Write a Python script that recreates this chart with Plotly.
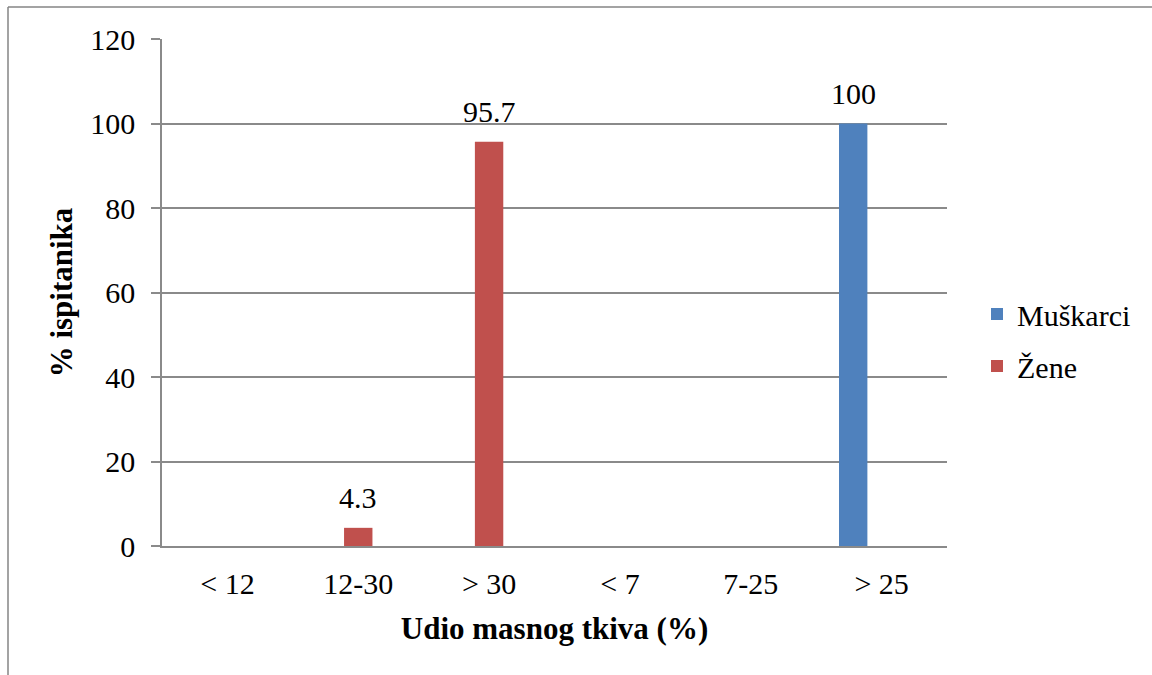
import plotly.graph_objects as go

categories = ["< 12", "12-30", "> 30", "< 7", "7-25", "> 25"]
muskarci = [None, None, None, None, None, 100]
zene = [None, 4.3, 95.7, None, None, None]
series_names = ["Muškarci", "Žene"]
y_ticks = [0, 20, 40, 60, 80, 100, 120]

BLUE = "#4F81BD"
RED = "#C0504D"
GRID = "#8A8A8A"
FONT = "Liberation Serif"

W, H = 1152, 675
L, R, T, B = 162, 205, 39, 129
BW = 0.217
offsets = [-1.5 * BW, -0.5 * BW]

fig = go.Figure()
for name, vals, col, off in zip(series_names, [muskarci, zene], [BLUE, RED], offsets):
    fig.add_trace(go.Bar(
        name=name, x=categories, y=vals, marker=dict(color=col, line=dict(width=0)),
        width=BW, offset=off, legendgroup=name,
    ))

annotations = []
for vals, off in zip([muskarci, zene], offsets):
    for i, v in enumerate(vals):
        if v is None:
            continue
        annotations.append(dict(
            x=i + off + BW / 2, y=v, xref="x", yref="y", text=f"{v:g}",
            showarrow=False, yanchor="middle", yshift=30,
            font=dict(family=FONT, size=30, color="black"),
        ))

pw = W - L - R
ph = H - T - B
def px(xp):
    return (xp - L) / pw
def py(yp):
    return (H - B - yp) / ph

shapes = [
    dict(type="line", xref="paper", yref="paper", x0=px(8), x1=px(8), y0=py(7), y1=py(700),
         line=dict(color="#858585", width=1.5)),
    dict(type="line", xref="paper", yref="paper", x0=px(8), x1=px(1200), y0=py(7), y1=py(7),
         line=dict(color="#858585", width=1.5)),
]

fig.update_layout(
    width=W, height=H,
    margin=dict(l=L, r=R, t=T, b=B, pad=0),
    paper_bgcolor="white", plot_bgcolor="white",
    font=dict(family=FONT, size=30, color="black"),
    barmode="overlay",
    showlegend=True,
    legend=dict(x=px(977), xanchor="left", y=py(288), yanchor="top",
                font=dict(family=FONT, size=30, color="black"),
                tracegroupgap=10, itemwidth=30, bgcolor="rgba(0,0,0,0)"),
    annotations=annotations,
    shapes=shapes,
    xaxis=dict(
        type="category", categoryorder="array", categoryarray=categories,
        range=[-0.5, len(categories) - 0.5],
        showline=True, linecolor=GRID, linewidth=1.5, showgrid=False,
        ticks="", ticklabelstandoff=10,
        tickfont=dict(family=FONT, size=30, color="black"),
        title=dict(text="<b>Udio masnog tkiva (%)</b>", standoff=19,
                   font=dict(family=FONT, size=31, color="black")),
    ),
    yaxis=dict(
        range=[0, 120], tickvals=y_ticks, ticktext=[str(t) for t in y_ticks],
        showline=True, linecolor=GRID, linewidth=1.5,
        showgrid=True, gridcolor=GRID, gridwidth=1.5, zeroline=False,
        ticks="outside", ticklen=9, tickcolor=GRID, tickwidth=1.5,
        ticklabelstandoff=10,
        tickfont=dict(family=FONT, size=30, color="black"),
        title=dict(text="<b>% ispitanika</b>", standoff=8,
                   font=dict(family=FONT, size=31, color="black")),
    ),
)

fig.write_html(
    "out.html",
    config={"displayModeBar": False},
    post_script="document.body.style.margin='0';document.body.style.overflow='hidden';",
)
